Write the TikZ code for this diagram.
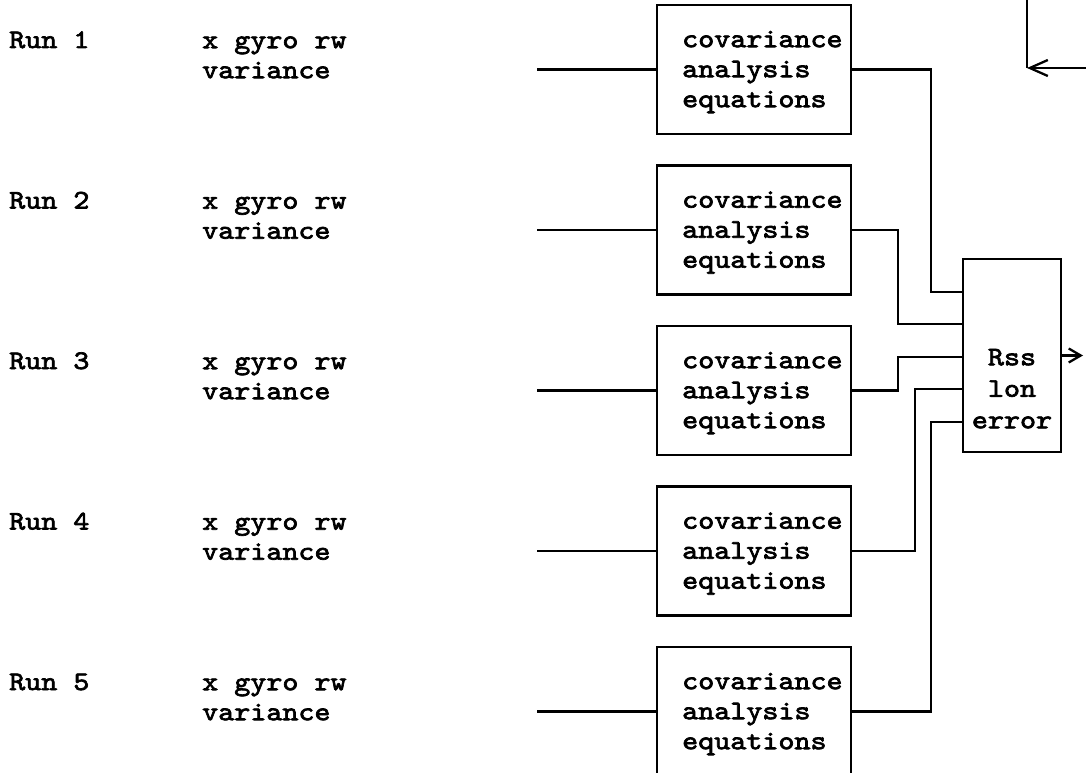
\documentclass[tikz,border=0pt]{standalone}
\usepackage{fontspec}
\newfontfamily\typeface{lmmono10-regular.otf}[FakeStretch=1.14, FakeBold=2.6]
\usetikzlibrary{arrows.meta}
\newcommand\diagfont{\typeface\fontsize{26.8}{30}\selectfont}
\newcommand\rssfont{\typeface\fontsize{26.8}{31.5}\selectfont}
\tikzset{
  lbl/.style={font=\diagfont, inner sep=0pt},
  blk/.style={draw, line width=2.3pt, minimum width=194pt, minimum height=129pt, inner sep=0pt},
  wire/.style={line width=2.3pt},
  barb/.style={-{Straight Barb[length=12pt,width=14pt]}},
}
\begin{document}
\begin{tikzpicture}[x=1pt,y=-1pt]
\clip (0,0) rectangle (1086,773);
\fill[white] (0,0) rectangle (1086,773);
% summing block
\node[draw, line width=2.3pt, minimum width=98pt, minimum height=193pt, inner sep=0pt] (rss) at (1012,355.5) {};
\node[font=\rssfont, inner sep=0pt, anchor=north, align=center] (rsst) at (1012,343) {\strut Rss\\lon\\error};
% five runs
\foreach \i in {1,...,5}{
  \pgfmathsetmacro\bt{5+160.5*(\i-1)}
  \pgfmathsetmacro\rb{48+160.5*(\i-1)}
  \node[lbl, anchor=base west] (run\i) at (9,\rb) {Run \i};
  \node[lbl, anchor=north west, align=left] (var\i) at (202,\rb-21) {\strut x gyro rw\\variance};
  \node[blk] (b\i) at (754,\bt+64.5) {};
  \node[lbl, anchor=north west, align=left] (t\i) at (682,\bt+42-21) {\strut covariance\\analysis\\equations};
  \coordinate (in\i) at (537,\bt+64.5);
  \draw[wire] (in\i) -- (b\i.west);
}
% routing points into the summing block
\coordinate (k1) at (931,292);
\coordinate (k2) at (898,324);
\coordinate (k3) at (898,357);
\coordinate (k4) at (915,389);
\coordinate (k5) at (931,422);
\foreach \i in {1,...,5}{
  \draw[wire] (b\i.east) -| (k\i) -- (k\i -| rss.west);
}
% output
\coordinate (out) at (1083,355.5);
\draw[wire, barb] (rss.east) -- (out);
% feedback fragment at top right
\coordinate (fbc) at (1027,68);
\coordinate (fbt) at (1027,-5);
\coordinate (fbr) at (1095,68);
\draw[wire] (fbt) -- (fbc);
\draw[wire, {Straight Barb[length=18pt,width=16pt]}-] (fbc) -- (fbr);
\end{tikzpicture}
\end{document}
